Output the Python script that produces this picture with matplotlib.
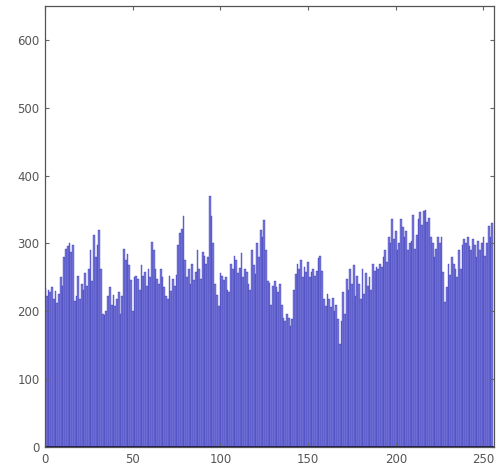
import numpy as np
import matplotlib.pyplot as plt

# histogram counts for gray levels 0..255
counts = [
    235, 222, 232, 228, 236, 218, 230, 212, 226, 250, 238, 280, 292, 296, 300, 288,
    298, 215, 222, 252, 218, 240, 232, 256, 238, 262, 290, 245, 312, 280, 298, 320,
    262, 196, 194, 200, 222, 236, 210, 224, 208, 218, 228, 196, 222, 292, 276, 284,
    268, 246, 200, 250, 252, 248, 232, 268, 252, 258, 238, 262, 250, 302, 290, 262,
    248, 240, 262, 250, 236, 222, 218, 252, 230, 248, 238, 254, 298, 315, 322, 340,
    276, 250, 262, 240, 270, 246, 258, 290, 262, 248, 288, 282, 270, 280, 370, 340,
    300, 240, 224, 208, 256, 252, 246, 250, 232, 228, 270, 262, 282, 276, 256, 264,
    286, 250, 262, 258, 240, 232, 290, 268, 255, 300, 280, 320, 310, 335, 290, 245,
    242, 210, 238, 244, 236, 228, 240, 210, 190, 186, 196, 190, 178, 188, 232, 255,
    270, 262, 276, 250, 266, 258, 272, 250, 258, 262, 252, 260, 278, 282, 260, 218,
    208, 226, 218, 206, 220, 200, 210, 188, 152, 186, 228, 196, 248, 232, 262, 240,
    268, 222, 252, 240, 218, 262, 226, 256, 238, 250, 232, 270, 260, 266, 262, 270,
    266, 280, 290, 272, 310, 300, 336, 306, 318, 290, 300, 336, 324, 310, 318, 290,
    300, 304, 342, 292, 312, 336, 346, 328, 348, 350, 332, 338, 310, 300, 280, 292,
    310, 300, 310, 258, 214, 236, 270, 254, 280, 270, 262, 250, 290, 262, 298, 306,
    300, 310, 296, 290, 306, 298, 280, 304, 290, 300, 310, 282, 300, 326, 310, 330,
]
levels = np.arange(len(counts))
xticks = [0, 50, 100, 150, 200, 250]
yticks = [0, 100, 200, 300, 400, 500, 600]

fig = plt.figure(figsize=(4.97, 4.70), dpi=100)
ax = fig.add_axes([0.0905, 0.049, 0.9035, 0.938])

ax.bar(levels, counts, width=1.0, color='#7a7ad8', edgecolor='#2a2ab8', linewidth=0.25)
ax.axhline(0, color='#111133', linewidth=1.2)

ax.set_xlim(0, 256)
ax.set_ylim(0, 650)
ax.set_xticks(xticks)
ax.set_yticks(yticks)
ax.tick_params(direction='in', length=3, labelsize=8.5, labelcolor='#555555',
               top=True, right=True, color='#666666', width=0.8, pad=4)
for s in ax.spines.values():
    s.set_color('#555555')
    s.set_linewidth(0.9)

plt.savefig('out.png', dpi=100)
plt.close()
